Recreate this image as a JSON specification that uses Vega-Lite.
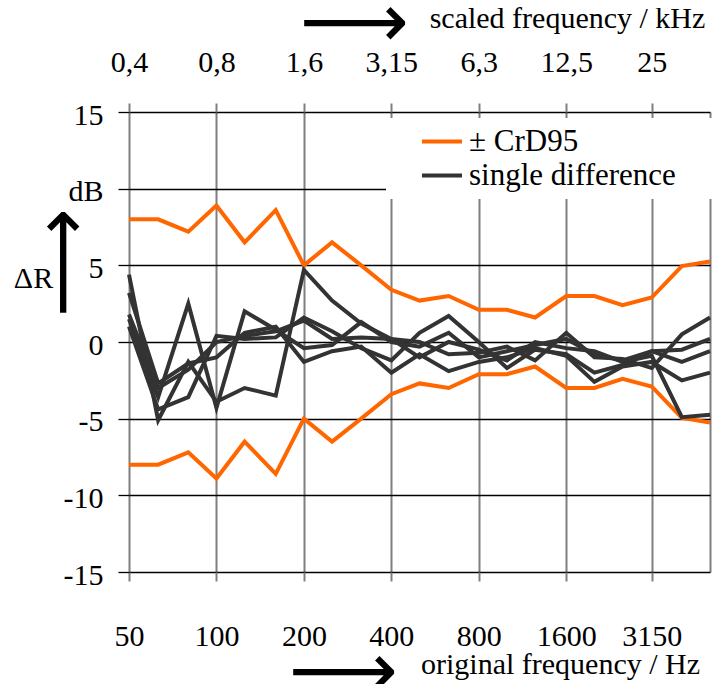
{
  "$schema": "https://vega.github.io/schema/vega-lite/v6.json",
  "width": 581,
  "height": 460,
  "autosize": {"type": "none"},
  "padding": {"left": 129, "top": 112, "right": 7, "bottom": 112},
  "background": "white",
  "config": {
    "view": {"stroke": null},
    "font": "'Liberation Serif', 'Times New Roman', Times, serif",
    "legend": {
      "orient": "none", "legendX": 257, "legendY": 6,
      "fillColor": "white", "padding": 8,
      "symbolType": "stroke", "symbolSize": 1600, "symbolStrokeWidth": 4,
      "symbolOffset": 26, "labelOffset": 5,
      "labelFont": "'Liberation Serif', 'Times New Roman', Times, serif", "labelFontSize": 31, "labelColor": "black",
      "labelLimit": 0, "rowPadding": 2, "clipHeight": 31
    }
  },
  "title": {"text": "⟶", "font": "DejaVu Sans", "fontSize": 76, "fontWeight": "normal", "color": "black", "anchor": "start", "frame": "group", "dx": 171, "dy": 60, "offset": 0},
  "datasets": {
    "crd": [
      {"f": 50, "side": "upper", "dR": 8.0}, {"f": 63, "side": "upper", "dR": 8.0}, {"f": 80, "side": "upper", "dR": 7.2},
      {"f": 100, "side": "upper", "dR": 8.9}, {"f": 125, "side": "upper", "dR": 6.5}, {"f": 160, "side": "upper", "dR": 8.6},
      {"f": 200, "side": "upper", "dR": 5.0}, {"f": 250, "side": "upper", "dR": 6.5}, {"f": 315, "side": "upper", "dR": 5.0},
      {"f": 400, "side": "upper", "dR": 3.4}, {"f": 500, "side": "upper", "dR": 2.7}, {"f": 630, "side": "upper", "dR": 3.0},
      {"f": 800, "side": "upper", "dR": 2.1}, {"f": 1000, "side": "upper", "dR": 2.1}, {"f": 1250, "side": "upper", "dR": 1.6},
      {"f": 1600, "side": "upper", "dR": 3.0}, {"f": 2000, "side": "upper", "dR": 3.0}, {"f": 2500, "side": "upper", "dR": 2.4},
      {"f": 3150, "side": "upper", "dR": 2.9}, {"f": 4000, "side": "upper", "dR": 4.95}, {"f": 5000, "side": "upper", "dR": 5.25},
      {"f": 50, "side": "lower", "dR": -8.0}, {"f": 63, "side": "lower", "dR": -8.0}, {"f": 80, "side": "lower", "dR": -7.2},
      {"f": 100, "side": "lower", "dR": -8.9}, {"f": 125, "side": "lower", "dR": -6.5}, {"f": 160, "side": "lower", "dR": -8.6},
      {"f": 200, "side": "lower", "dR": -5.0}, {"f": 250, "side": "lower", "dR": -6.5}, {"f": 315, "side": "lower", "dR": -5.0},
      {"f": 400, "side": "lower", "dR": -3.4}, {"f": 500, "side": "lower", "dR": -2.7}, {"f": 630, "side": "lower", "dR": -3.0},
      {"f": 800, "side": "lower", "dR": -2.1}, {"f": 1000, "side": "lower", "dR": -2.1}, {"f": 1250, "side": "lower", "dR": -1.6},
      {"f": 1600, "side": "lower", "dR": -3.0}, {"f": 2000, "side": "lower", "dR": -3.0}, {"f": 2500, "side": "lower", "dR": -2.4},
      {"f": 3150, "side": "lower", "dR": -2.9}, {"f": 4000, "side": "lower", "dR": -4.95}, {"f": 5000, "side": "lower", "dR": -5.25}
    ],
    "diff": [
      {"f": 50, "run": 1, "dR": 4.4}, {"f": 63, "run": 1, "dR": -5.1}, {"f": 80, "run": 1, "dR": -1.3}, {"f": 100, "run": 1, "dR": -3.9},
      {"f": 125, "run": 1, "dR": -3.0}, {"f": 160, "run": 1, "dR": -3.5}, {"f": 200, "run": 1, "dR": 4.7}, {"f": 250, "run": 1, "dR": 2.7},
      {"f": 315, "run": 1, "dR": 1.2}, {"f": 400, "run": 1, "dR": 0.2}, {"f": 500, "run": 1, "dR": 0.0}, {"f": 630, "run": 1, "dR": -0.8},
      {"f": 800, "run": 1, "dR": -0.7}, {"f": 1000, "run": 1, "dR": -0.3}, {"f": 1250, "run": 1, "dR": -1.2}, {"f": 1600, "run": 1, "dR": 0.6},
      {"f": 2000, "run": 1, "dR": -1.0}, {"f": 2500, "run": 1, "dR": -1.1}, {"f": 3150, "run": 1, "dR": -1.7}, {"f": 4000, "run": 1, "dR": 0.5},
      {"f": 5000, "run": 1, "dR": 1.6},
      {"f": 50, "run": 2, "dR": 1.5}, {"f": 63, "run": 2, "dR": -3.6}, {"f": 80, "run": 2, "dR": 2.5}, {"f": 100, "run": 2, "dR": -4.3},
      {"f": 125, "run": 2, "dR": 2.0}, {"f": 160, "run": 2, "dR": 0.8}, {"f": 200, "run": 2, "dR": -0.4}, {"f": 250, "run": 2, "dR": -0.2},
      {"f": 315, "run": 2, "dR": 1.3}, {"f": 400, "run": 2, "dR": 0.0}, {"f": 500, "run": 2, "dR": -0.3}, {"f": 630, "run": 2, "dR": 0.6},
      {"f": 800, "run": 2, "dR": -1.0}, {"f": 1000, "run": 2, "dR": -0.6}, {"f": 1250, "run": 2, "dR": -0.2}, {"f": 1600, "run": 2, "dR": 0.2},
      {"f": 2000, "run": 2, "dR": -0.8}, {"f": 2500, "run": 2, "dR": -1.2}, {"f": 3150, "run": 2, "dR": -0.6}, {"f": 4000, "run": 2, "dR": -0.5},
      {"f": 5000, "run": 2, "dR": 0.2},
      {"f": 50, "run": 3, "dR": 1.0}, {"f": 63, "run": 3, "dR": -4.4}, {"f": 80, "run": 3, "dR": -3.6}, {"f": 100, "run": 3, "dR": 0.4},
      {"f": 125, "run": 3, "dR": 0.2}, {"f": 160, "run": 3, "dR": 0.3}, {"f": 200, "run": 3, "dR": 1.6}, {"f": 250, "run": 3, "dR": 0.7},
      {"f": 315, "run": 3, "dR": -0.4}, {"f": 400, "run": 3, "dR": -1.2}, {"f": 500, "run": 3, "dR": 0.6}, {"f": 630, "run": 3, "dR": 1.7},
      {"f": 800, "run": 3, "dR": 0.0}, {"f": 1000, "run": 3, "dR": -1.7}, {"f": 1250, "run": 3, "dR": -0.5}, {"f": 1600, "run": 3, "dR": -0.8},
      {"f": 2000, "run": 3, "dR": -2.0}, {"f": 2500, "run": 3, "dR": -1.5}, {"f": 3150, "run": 3, "dR": -0.6}, {"f": 4000, "run": 3, "dR": -1.3},
      {"f": 5000, "run": 3, "dR": -0.6},
      {"f": 50, "run": 4, "dR": 3.2}, {"f": 63, "run": 4, "dR": -2.7}, {"f": 80, "run": 4, "dR": -1.4}, {"f": 100, "run": 4, "dR": -1.0},
      {"f": 125, "run": 4, "dR": 0.6}, {"f": 160, "run": 4, "dR": 1.0}, {"f": 200, "run": 4, "dR": -1.3}, {"f": 250, "run": 4, "dR": -0.6},
      {"f": 315, "run": 4, "dR": -0.3}, {"f": 400, "run": 4, "dR": -2.0}, {"f": 500, "run": 4, "dR": -0.8}, {"f": 630, "run": 4, "dR": -1.9},
      {"f": 800, "run": 4, "dR": -1.3}, {"f": 1000, "run": 4, "dR": -1.0}, {"f": 1250, "run": 4, "dR": -0.4}, {"f": 1600, "run": 4, "dR": -0.9},
      {"f": 2000, "run": 4, "dR": -2.6}, {"f": 2500, "run": 4, "dR": -1.6}, {"f": 3150, "run": 4, "dR": -1.3}, {"f": 4000, "run": 4, "dR": -2.5},
      {"f": 5000, "run": 4, "dR": -2.0},
      {"f": 50, "run": 5, "dR": 1.8}, {"f": 63, "run": 5, "dR": -3.0}, {"f": 80, "run": 5, "dR": -1.8}, {"f": 100, "run": 5, "dR": 0.0},
      {"f": 125, "run": 5, "dR": 0.4}, {"f": 160, "run": 5, "dR": 0.7}, {"f": 200, "run": 5, "dR": 1.4}, {"f": 250, "run": 5, "dR": 0.2},
      {"f": 315, "run": 5, "dR": 0.3}, {"f": 400, "run": 5, "dR": 0.2}, {"f": 500, "run": 5, "dR": -1.0}, {"f": 630, "run": 5, "dR": 0.0},
      {"f": 800, "run": 5, "dR": -0.5}, {"f": 1000, "run": 5, "dR": -1.2}, {"f": 1250, "run": 5, "dR": 0.0}, {"f": 1600, "run": 5, "dR": -0.4},
      {"f": 2000, "run": 5, "dR": -0.6}, {"f": 2500, "run": 5, "dR": -1.3}, {"f": 3150, "run": 5, "dR": -0.9}, {"f": 4000, "run": 5, "dR": -4.9},
      {"f": 5000, "run": 5, "dR": -4.75}
    ]
  },
  "layer": [
    {
      "data": {"name": "crd"},
      "transform": [{"filter": "datum.side == 'upper'"}],
      "mark": {"type": "line", "strokeWidth": 4},
      "encoding": {
        "x": {
          "field": "f", "type": "quantitative",
          "scale": {"type": "log", "domain": [50, 5000], "nice": false},
          "axis": {
            "orient": "bottom", "values": [50, 100, 200, 400, 800, 1600, 3150],
            "labelExpr": "'' + datum.value",
            "grid": true, "gridColor": "#7f7f7f", "gridWidth": 2, "gridOpacity": 1,
            "ticks": true, "tickColor": "#7f7f7f", "tickWidth": 2, "tickSize": 9,
            "domain": false,
            "labelFont": "'Liberation Serif', 'Times New Roman', Times, serif", "labelFontSize": 30, "labelColor": "black",
            "labelPadding": 40, "labelFlush": false, "labelOverlap": false, "labelBound": false,
            "title": "original frequency / Hz", "titleFont": "'Liberation Serif', 'Times New Roman', Times, serif", "titleFontSize": 30,
            "titleFontWeight": "normal", "titleColor": "black",
            "titleX": 431, "titleY": 101, "titleAlign": "center", "titleBaseline": "alphabetic"
          }
        },
        "y": {
          "field": "dR", "type": "quantitative",
          "scale": {"domain": [-15, 15], "nice": false},
          "axis": {
            "orient": "left", "values": [-15, -10, -5, 0, 5, 10, 15],
            "labelExpr": "datum.value == 10 ? 'dB' : '' + datum.value",
            "grid": true, "gridColor": "black", "gridWidth": 1.3, "gridOpacity": 1,
            "ticks": true, "tickColor": "black", "tickWidth": 1.3, "tickSize": 11,
            "domain": false,
            "labelFont": "'Liberation Serif', 'Times New Roman', Times, serif", "labelFontSize": 30, "labelColor": "black",
            "labelPadding": 15, "labelOffset": 3, "labelOverlap": false, "labelBound": false, "labelFlush": false,
            "title": "ΔR", "titleFont": "'Liberation Serif', 'Times New Roman', Times, serif", "titleFontSize": 30, "titleFontWeight": "normal",
            "titleColor": "black", "titleAngle": 0, "titleX": -96, "titleY": 166,
            "titleAlign": "center", "titleBaseline": "middle"
          }
        },
        "color": {
          "datum": "± CrD95",
          "scale": {"domain": ["± CrD95", "single difference"], "range": ["#FF6600", "#333333"]},
          "legend": {"title": null, "labelExpr": "datum.label + '\u00a0\u00a0\u00a0\u00a0\u200b'"}
        }
      }
    },
    {
      "data": {"name": "crd"},
      "transform": [{"filter": "datum.side == 'lower'"}],
      "mark": {"type": "line", "strokeWidth": 4},
      "encoding": {
        "x": {
          "field": "f", "type": "quantitative",
          "scale": {"type": "log", "domain": [50, 5000], "nice": false},
          "axis": {
            "orient": "bottom", "values": [5000], "labels": false, "ticks": false, "domain": false,
            "grid": true, "gridColor": "#7f7f7f", "gridWidth": 2, "gridOpacity": 1,
            "title": "⟶", "titleFont": "DejaVu Sans", "titleFontSize": 76, "titleFontWeight": "normal",
            "titleColor": "black", "titleX": 214, "titleY": 100, "titleAlign": "center", "titleBaseline": "middle"
          }
        },
        "y": {
          "field": "dR", "type": "quantitative",
          "scale": {"domain": [-15, 15], "nice": false},
          "axis": {
            "orient": "left", "labels": false, "ticks": false, "domain": false, "grid": false,
            "title": "⟶", "titleFont": "DejaVu Sans", "titleFontSize": 76, "titleFontWeight": "normal",
            "titleColor": "black", "titleAngle": 270, "titleX": -66, "titleY": 150,
            "titleAlign": "center", "titleBaseline": "middle"
          }
        },
        "color": {"datum": "± CrD95"}
      }
    },
    {
      "data": {"name": "diff"},
      "mark": {"type": "line", "strokeWidth": 4},
      "encoding": {
        "x": {
          "field": "f", "type": "quantitative",
          "scale": {"type": "log", "domain": [50, 5000], "nice": false},
          "axis": {
            "orient": "top", "values": [50, 100, 200, 400, 800, 1600, 3150],
            "labelExpr": "datum.value == 50 ? '0,4' : datum.value == 100 ? '0,8' : datum.value == 200 ? '1,6' : datum.value == 400 ? '3,15' : datum.value == 800 ? '6,3' : datum.value == 1600 ? '12,5' : '25'",
            "grid": false, "ticks": true, "tickColor": "#7f7f7f", "tickWidth": 2, "tickSize": 9,
            "domain": false,
            "labelFont": "'Liberation Serif', 'Times New Roman', Times, serif", "labelFontSize": 30, "labelColor": "black",
            "labelPadding": 26, "labelFlush": false, "labelOverlap": false, "labelBound": false,
            "title": "scaled frequency / kHz", "titleFont": "'Liberation Serif', 'Times New Roman', Times, serif", "titleFontSize": 30,
            "titleFontWeight": "normal", "titleColor": "black",
            "titleX": 438, "titleY": -85, "titleAlign": "center", "titleBaseline": "alphabetic"
          }
        },
        "y": {
          "field": "dR", "type": "quantitative",
          "scale": {"domain": [-15, 15], "nice": false},
          "axis": null
        },
        "detail": {"field": "run", "type": "nominal"},
        "color": {"datum": "single difference"}
      }
    }
  ],
  "resolve": {"axis": {"x": "independent", "y": "independent"}}
}
